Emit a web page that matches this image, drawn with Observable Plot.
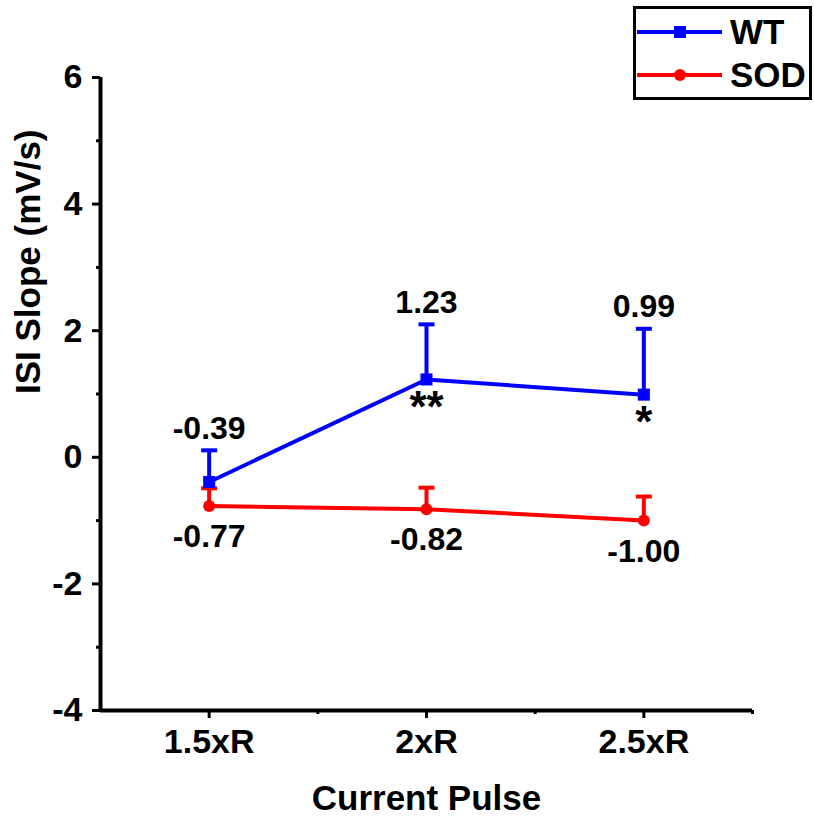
<!DOCTYPE html>
<html>
<head>
<meta charset="utf-8">
<script src="https://cdn.jsdelivr.net/npm/d3@7"></script>
<script src="https://cdn.jsdelivr.net/npm/@observablehq/plot@0.6"></script>
<style>
  body { margin: 0; background: #fff; }
  #chart { position: relative; width: 814px; height: 824px; font-family: "Liberation Sans", Arial, sans-serif; }
  #legend { position: absolute; left: 633px; top: 6px; width: 179px; height: 94px; box-sizing: border-box; border: 3px solid #000; background: #fff; }
  #legend svg { display: block; }
</style>
</head>
<body>
<div id="chart"></div>
<script>
// Current pulse categories and ISI slope (mean ± SEM, mV/s)
const categories = ["1.5xR", "2xR", "2.5xR"];
const wtMean = [-0.39, 1.23, 0.99];
const wtErr = [0.50, 0.87, 1.04];
const sodMean = [-0.77, -0.82, -1.00];
const sodErr = [0.28, 0.34, 0.38];
const wtStars = ["", "**", "*"];
const yMajor = [-4, -2, 0, 2, 4, 6];
const yMinor = [-3, -1, 1, 3, 5];
const xMajor = [1, 2, 3];
const xMinor = [1.5, 2.5, 3.5];

const blue = "#0000ff";
const red = "#ff0000";

const rows = (means, errs, stars) => categories.map((c, i) => ({
  pos: i + 1, cat: c, mean: means[i], top: means[i] + errs[i], star: stars ? stars[i] : ""
}));
const wt = rows(wtMean, wtErr, wtStars);
const sod = rows(sodMean, sodErr);

// horizontal bar used as the error-bar cap
const capSymbol = {
  draw(ctx, size) {
    const w = Math.sqrt(size / Math.PI);
    ctx.moveTo(-w, 0);
    ctx.lineTo(w, 0);
  }
};

const series = (data, color, symbol, r) => [
  Plot.ruleX(data, {x: "pos", y1: "mean", y2: "top", stroke: color, strokeWidth: 4}),
  Plot.dot(data, {x: "pos", y: "top", symbol: capSymbol, r: 8, stroke: color, strokeWidth: 4}),
  Plot.line(data, {x: "pos", y: "mean", stroke: color, strokeWidth: 4}),
  Plot.dot(data, {x: "pos", y: "mean", symbol, r, fill: color, stroke: "none"})
];

const font = "'Liberation Sans', Arial, sans-serif";

const chart = Plot.plot({
  width: 814,
  height: 824,
  marginLeft: 100,
  marginRight: 62,
  marginTop: 77,
  marginBottom: 114,
  style: {fontFamily: font, fontWeight: "bold", fontSize: "32px", color: "#000", background: "#fff"},
  x: {domain: [0.5, 3.5]},
  y: {domain: [-4, 6]},
  marks: [
    Plot.axisY({ticks: yMajor, tickSize: 8, tickPadding: 10, strokeWidth: 3, tickFormat: (d) => String(d), label: null, fontSize: 34, fontWeight: "bold"}),
    Plot.axisY({ticks: yMinor, tickSize: 4, strokeWidth: 3, tickFormat: () => "", label: null}),
    Plot.axisX({ticks: xMajor, tickSize: 8, tickPadding: 10, strokeWidth: 3, tickFormat: (d) => categories[d - 1], label: null, fontSize: 34, fontWeight: "bold"}),
    Plot.axisX({ticks: xMinor, tickSize: 4, strokeWidth: 3, tickFormat: () => "", label: null}),
    Plot.ruleX([0.5], {strokeWidth: 4}),
    Plot.ruleY([-4], {strokeWidth: 4}),
    ...series(sod, red, "circle", 6),
    ...series(wt, blue, "square", 6.8),
    Plot.text(wt, {x: "pos", y: "top", text: (d) => d.mean.toFixed(2), dy: -22, fontSize: 32, fontWeight: "bold"}),
    Plot.text(sod, {x: "pos", y: "mean", text: (d) => d.mean.toFixed(2), dy: 31, fontSize: 32, fontWeight: "bold"}),
    Plot.text(wt, {x: "pos", y: "mean", text: "star", lineAnchor: "top", dy: 11, fontSize: 44, fontWeight: "bold"}),
    Plot.text(["ISI Slope (mV/s)"], {frameAnchor: "left", text: (d) => d, rotate: -90, dx: -72, fontSize: 35, fontWeight: "bold"}),
    Plot.text(["Current Pulse"], {frameAnchor: "bottom", text: (d) => d, dy: 99, fontSize: 35, fontWeight: "bold"})
  ]
});

const root = document.getElementById("chart");
root.appendChild(chart);

// legend box
const legend = document.createElement("div");
legend.id = "legend";
const ns = "http://www.w3.org/2000/svg";
const svg = document.createElementNS(ns, "svg");
svg.setAttribute("width", 173);
svg.setAttribute("height", 88);
const entries = [
  {name: "WT", color: blue, shape: "square", y: 23},
  {name: "SOD", color: red, shape: "circle", y: 66}
];
for (const e of entries) {
  const line = document.createElementNS(ns, "line");
  line.setAttribute("x1", 1); line.setAttribute("x2", 86);
  line.setAttribute("y1", e.y); line.setAttribute("y2", e.y);
  line.setAttribute("stroke", e.color); line.setAttribute("stroke-width", 4);
  svg.appendChild(line);
  let m;
  if (e.shape === "square") {
    m = document.createElementNS(ns, "rect");
    m.setAttribute("x", 38); m.setAttribute("y", e.y - 6);
    m.setAttribute("width", 12); m.setAttribute("height", 12);
  } else {
    m = document.createElementNS(ns, "circle");
    m.setAttribute("cx", 44); m.setAttribute("cy", e.y); m.setAttribute("r", 6);
  }
  m.setAttribute("fill", e.color);
  svg.appendChild(m);
  const t = document.createElementNS(ns, "text");
  t.setAttribute("x", 94); t.setAttribute("y", e.y + 12);
  t.setAttribute("font-family", font);
  t.setAttribute("font-weight", "bold");
  t.setAttribute("font-size", 35);
  t.textContent = e.name;
  svg.appendChild(t);
}
legend.appendChild(svg);
root.appendChild(legend);
</script>
</body>
</html>
